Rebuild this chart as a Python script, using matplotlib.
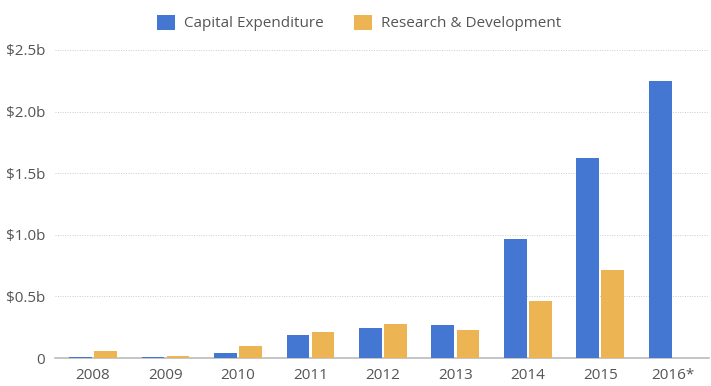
import matplotlib.pyplot as plt
import numpy as np
from matplotlib.patches import FancyBboxPatch
from matplotlib.legend_handler import HandlerPatch

plt.rcParams['font.family'] = ['Open Sans', 'DejaVu Sans']

years = ['2008', '2009', '2010', '2011', '2012', '2013', '2014', '2015', '2016*']
capex = [0.01, 0.01, 0.04, 0.185, 0.24, 0.265, 0.965, 1.625, 2.25]
rnd = [0.055, 0.02, 0.095, 0.21, 0.275, 0.23, 0.465, 0.715, 0]

blue = '#4477d2'
orange = '#ecb452'
txt = '#555555'


def round_box(legend, orig, xdescent, ydescent, width, height, fontsize):
    return FancyBboxPatch((-xdescent, -ydescent), width, height,
                          boxstyle='round,pad=0,rounding_size=2.5')


fig = plt.figure(figsize=(7.11, 3.86), dpi=100)
ax = fig.add_axes([55 / 711, 1 - 358 / 386, 654 / 711, 308 / 386])

x = np.arange(len(years))
w = 0.313
g = 0.016
ax.bar(x - w / 2 - g, capex, w, color=blue, label='Capital Expenditure', zorder=3)
ax.bar(x + w / 2 + g, rnd, w, color=orange, label='Research & Development', zorder=3)

ax.set_xlim(-0.524, len(years) - 0.5)
ax.set_ylim(0, 2.5)
ax.set_yticks([0, 0.5, 1.0, 1.5, 2.0, 2.5])
ax.set_yticklabels(['0', '$0.5b', '$1.0b', '$1.5b', '$2.0b', '$2.5b'])
ax.set_xticks(x)
ax.set_xticklabels(years)
ax.tick_params(axis='both', length=0, labelsize=11, colors=txt)
ax.tick_params(axis='y', pad=7)
ax.tick_params(axis='x', pad=7)

ax.grid(axis='y', color='#cccccc', linestyle=(0, (1, 1.5)), linewidth=0.7, zorder=0)
for s in ['top', 'right', 'left']:
    ax.spines[s].set_visible(False)
ax.spines['bottom'].set_color('#bbbbbb')
ax.spines['bottom'].set_linewidth(1.2)

leg = fig.legend(loc='center', bbox_to_anchor=(0.505, 1 - 23 / 386), ncol=2, frameon=False,
                 fontsize=11, handlelength=1.2, handleheight=1.15, columnspacing=2.0,
                 handletextpad=0.55, labelcolor=txt,
                 handler_map={plt.Rectangle: HandlerPatch(patch_func=round_box)})

fig.savefig('out.png', dpi=100)
